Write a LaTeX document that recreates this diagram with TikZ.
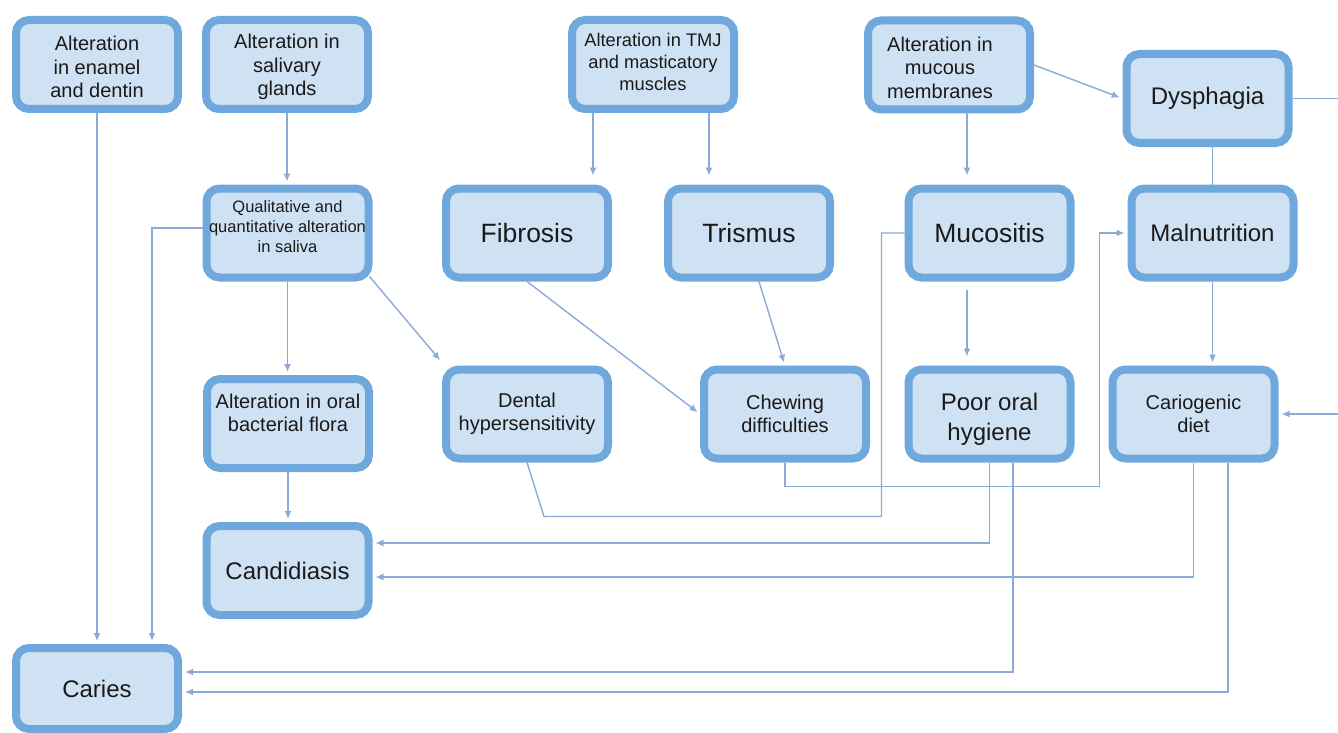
\documentclass[tikz,border=0pt]{standalone}
\usepackage{fontspec}
\setmainfont{Liberation Sans}
\usetikzlibrary{arrows.meta,calc}
\definecolor{bordc}{HTML}{6FA8DC}
\definecolor{fillc}{HTML}{CFE2F3}
\definecolor{connc}{HTML}{8AAAD8}
\definecolor{txtc}{HTML}{1A1A1A}
\begin{document}
\begin{tikzpicture}[x=1pt,y=-1pt,
  box/.style={draw=bordc,fill=fillc,line width=8pt,rounded corners=13pt,
    minimum width=162pt,minimum height=89pt,inner sep=0pt,align=center,text=txtc},
  tA/.style={font=\fontsize{20}{23.5}\selectfont},
  tB/.style={font=\fontsize{18.3}{22}\selectfont},
  tC/.style={font=\fontsize{16.5}{20}\selectfont},
  tD/.style={font=\fontsize{24}{30}\selectfont},
  tE/.style={font=\fontsize{26.5}{30}\selectfont},
  link/.style={draw=connc,line width=1.4pt},
  conn/.style={link,-{Latex[length=8pt,width=7pt]},shorten >=3pt}]
\fill[white] (0,0) rectangle (1338,733);
\useasboundingbox (0,0) rectangle (1338,733);
\clip (0,0) rectangle (1338,733);

% nodes
\node[box,tA] (enamel) at (97,64.5) {{}\\[-4pt]Alteration\\in enamel\\and dentin};
\node[box,tA] (saliv) at (287,64.5) {{}\\[-4pt]Alteration in\\salivary\\glands};
\node[box,tB] (tmj) at (653,64.5) {Alteration in TMJ\\and masticatory\\muscles\\[-17pt]{}};
\node[box,tA] (mucous) at (949,65) {{}\\[-4pt]Alteration in\rule{18pt}{0pt}\\mucous\rule{18pt}{0pt}\\membranes\rule{18pt}{0pt}};
\node[box,tD] (dysph) at (1207.5,98.5) {Dysphagia};
\node[box,tC] (saliva) at (287.5,233) {Qualitative and\\quantitative alteration\\in saliva\\[-8pt]{}};
\node[box,tE] (fib) at (527,233) {Fibrosis};
\node[box,tE] (tris) at (749,233) {Trismus};
\node[box,tE] (mucos) at (989.5,233) {Mucositis};
\node[box,tD] (malnu) at (1212.5,233) {Malnutrition};
\node[box,tA] (flora) at (288,423.5) {Alteration in oral\\bacterial flora\\[-2pt]{}};
\node[box,tA] (dental) at (527,414) {Dental\\hypersensitivity};
\node[box,tA] (chew) at (785,414) {Chewing\\difficulties};
\node[box,tD] (poor) at (989.5,414) {{}\\[-3pt]Poor oral\\hygiene};
\node[box,tA] (cario) at (1193.5,414) {Cariogenic\\diet};
\node[box,tD] (cand) at (287.5,570.5) {Candidiasis};
\node[box,tD,minimum height=81pt] (caries) at (97,688.5) {Caries};

% connectors
\draw[conn] (enamel.south) -- (caries.north);
\draw[conn] (saliv.south) -- (saliv.south |- saliva.north);
\draw[conn] ([yshift=5]saliva.west) -| ([xshift=55]caries.north);
\draw[conn] (saliva.south) -- (saliva.south |- flora.north);
\draw[conn] ([xshift=-3,yshift=5]saliva.south east) -- ([yshift=3]dental.north west);
\draw[conn] (flora.south) -- (flora.south |- cand.north);
\draw[conn,shorten >=9pt] ([xshift=-60]tmj.south) -- ([xshift=-60]tmj.south |- fib.north);
\draw[conn,shorten >=9pt] ([xshift=56]tmj.south) -- ([xshift=56]tmj.south |- tris.north);
\draw[conn] (fib.south) -- (chew.west);
\draw[conn] ([xshift=10]tris.south) -- (chew.north);
\draw[link] (dental.south) -- ++(17,54) -| ([xshift=-23]mucos.west) -- (mucos.west);
\draw[conn] (chew.south) -- ++(0,24) -| ([xshift=-28]malnu.west) -- (malnu.west);
\draw[conn,shorten >=9pt] ([xshift=18]mucous.south) -- ([xshift=18]mucous.south |- mucos.north);
\draw[conn] (mucous.east) -- (dysph.west);
\coordinate (rt) at (1352,300);
\draw[conn] (dysph.east) -| (rt) |- (cario.east);
\draw[link] (malnu.north |- dysph.south) -- (malnu.north);
\draw[conn] (malnu.south) -- (malnu.south |- cario.north);
\draw[conn,shorten >=9pt] ([xshift=-22.5,yshift=-8]mucos.south) -- ([xshift=-22.5]mucos.south |- poor.north);
\draw[conn] (poor.south) |- ([yshift=27.5]cand.east);
\draw[conn] ([xshift=23.5]poor.south) |- ([yshift=16.5]caries.east);
\draw[conn] (cario.south) |- ([yshift=-6.5]cand.east);
\draw[conn] ([xshift=34.5]cario.south) |- ([yshift=-3.5]caries.east);
\end{tikzpicture}
\end{document}
